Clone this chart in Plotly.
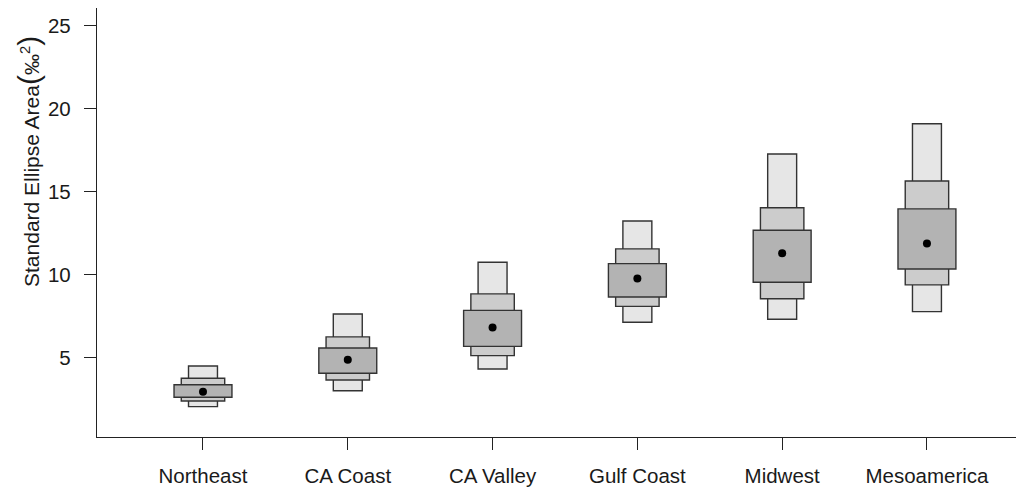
import plotly.graph_objects as go

# Posterior standard ellipse area (SEA) by region: mode and credible intervals
categories = ["Northeast", "CA Coast", "CA Valley", "Gulf Coast", "Midwest", "Mesoamerica"]
sea_mode = [2.97, 4.90, 6.83, 9.78, 11.31, 11.89]
ci95_lo = [2.07, 3.03, 4.34, 7.15, 7.33, 7.79]
ci95_hi = [4.52, 7.65, 10.77, 13.25, 17.29, 19.11]
ci75_lo = [2.41, 3.67, 5.14, 8.11, 8.57, 9.40]
ci75_hi = [3.78, 6.27, 8.86, 11.57, 14.05, 15.66]
ci50_lo = [2.63, 4.08, 5.70, 8.67, 9.56, 10.36]
ci50_hi = [3.39, 5.60, 7.87, 10.68, 12.69, 13.98]
y_ticks = [5, 10, 15, 20, 25]

xpos = list(range(1, len(categories) + 1))
FONT = "Liberation Sans, Arial, sans-serif"
INK = "#1a1a1a"

fig = go.Figure()

# widest interval drawn first (narrow, light), narrowest on top (wide, dark)
levels = [
    (ci95_lo, ci95_hi, 0.2, "#e6e6e6"),
    (ci75_lo, ci75_hi, 0.3, "#cccccc"),
    (ci50_lo, ci50_hi, 0.4, "#b3b3b3"),
]
for lo, hi, w, col in levels:
    fig.add_trace(go.Bar(
        x=xpos,
        y=[h - l for l, h in zip(lo, hi)],
        base=lo,
        width=w,
        marker=dict(color=col, line=dict(color="#333333", width=1.4)),
        showlegend=False,
        hoverinfo="skip",
    ))

fig.add_trace(go.Scatter(
    x=xpos, y=sea_mode, mode="markers",
    marker=dict(color="black", size=8),
    showlegend=False,
))

ytitle = ("Standard Ellipse Area"
          "<span style='font-size:30px'>(</span>‰<sup>2</sup>"
          "<span style='font-size:30px'>)</span>")

fig.update_layout(
    width=1016, height=493,
    margin=dict(l=97, r=0, t=8, b=56),
    paper_bgcolor="white", plot_bgcolor="white",
    barmode="overlay",
    font=dict(family=FONT, size=20.5, color=INK),
    xaxis=dict(
        range=[0.268, 6.615],
        tickmode="array", tickvals=xpos, ticktext=categories,
        showgrid=False, zeroline=False,
        showline=True, linecolor="#222222", linewidth=1.3,
        ticks="outside", ticklen=12, tickwidth=1.3, tickcolor="#222222",
        ticklabelstandoff=8,
    ),
    yaxis=dict(
        range=[0.24, 26.08],
        tickmode="array", tickvals=y_ticks,
        showgrid=False, zeroline=False,
        showline=True, linecolor="#222222", linewidth=1.3,
        ticks="outside", ticklen=12, tickwidth=1.3, tickcolor="#222222",
        ticklabelstandoff=9,
    ),
    annotations=[dict(
        text=ytitle,
        xref="paper", yref="paper",
        x=(29 - 97) / 919, y=(437 - 162) / 429,
        xanchor="center", yanchor="middle",
        textangle=-90, showarrow=False,
        font=dict(family=FONT, size=21, color=INK),
    )],
)

fig.write_html("out.html")
